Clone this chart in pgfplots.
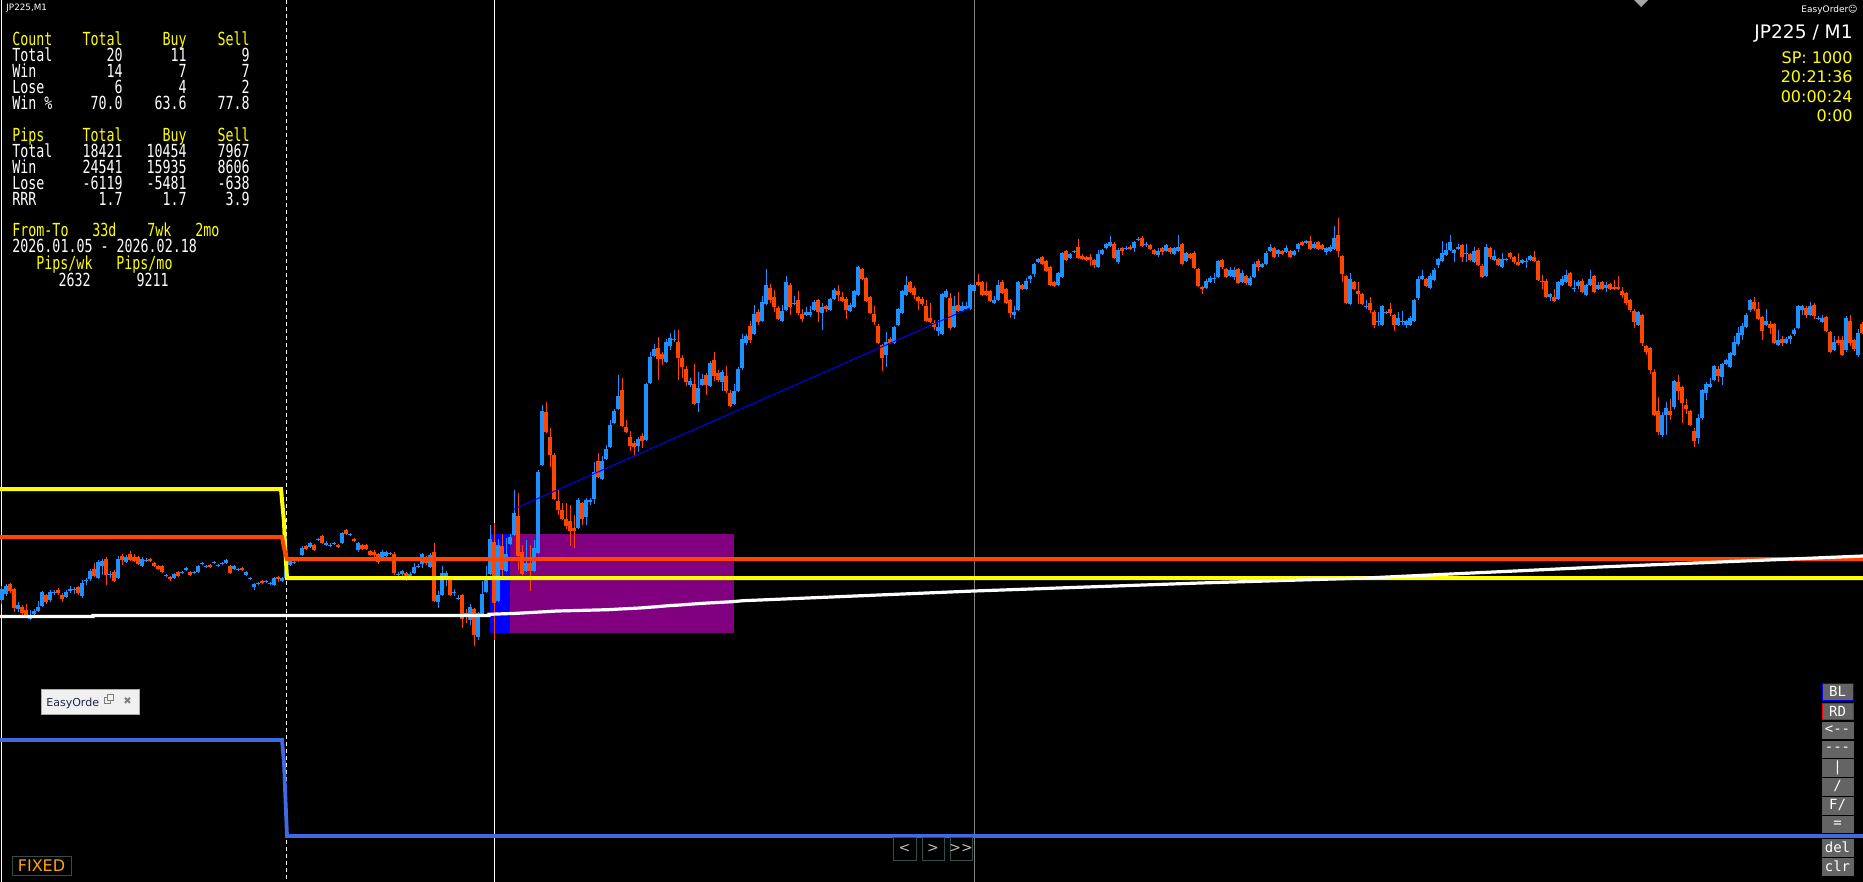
\documentclass[border=0pt]{standalone}
\usepackage{pgfplots}
\usepackage{pgfplotstable}
\usepackage{fontspec}
\pgfplotsset{compat=1.18}
\newfontfamily\mono[FakeStretch=0.74]{DejaVu Sans Mono}
\newfontfamily\bmono{DejaVu Sans Mono}
\newfontfamily\dvs{DejaVu Sans}
\definecolor{upc}{RGB}{30,144,255}
\definecolor{dnc}{RGB}{255,69,0}
\definecolor{yel}{RGB}{255,255,0}
\definecolor{rblue}{RGB}{65,105,225}
\definecolor{purp}{RGB}{128,0,128}
\definecolor{pblue}{RGB}{0,0,255}
\definecolor{btn}{RGB}{100,100,100}
\definecolor{slate}{RGB}{47,79,79}
\definecolor{fixo}{RGB}{255,165,0}
\tikzset{
  pw/.style={anchor=base west, inner sep=0pt, font=\mono\fontsize{9pt}{9pt}\selectfont},
  pe/.style={anchor=base east, inner sep=0pt, font=\mono\fontsize{9pt}{9pt}\selectfont},
  rt/.style={anchor=base east, inner sep=0pt, font=\dvs\fontsize{8pt}{8pt}\selectfont, text=yel},
  bt/.style={inner sep=0pt, font=\bmono\fontsize{7pt}{7pt}\selectfont, text=white},
}
% columns: x, body top, body bottom, wick top, wick bottom (pixel rows, downward)
\pgfplotstableread{
x bt bb wt wb
2 589 600 586 604
6 586 594 584 596
18 605 609 602 612
30 615 619 610 620
34 611 614 609 616
38 607 611 601 612
42 592 606 591 607
50 592 600 590 602
54 592 593 590 595
66 592 597 590 598
70 589 591 586 593
74 589 590 587 594
82 583 596 580 598
86 580 581 578 585
90 571 579 569 581
98 562 578 560 579
102 561 566 559 575
110 574 575 571 578
118 559 578 556 579
126 557 562 555 563
142 559 566 557 567
146 560 561 558 562
166 575 576 574 577
174 574 578 573 579
182 572 573 571 574
186 568 570 567 571
194 572 573 571 574
198 566 572 565 573
202 563 564 562 565
206 566 567 565 568
214 562 563 561 564
218 565 566 564 567
222 563 564 562 565
226 560 563 559 564
234 566 569 565 570
238 569 570 568 571
246 572 575 571 576
250 578 579 577 580
254 584 587 583 590
258 583 584 582 585
266 581 582 580 583
270 583 584 582 585
274 578 585 577 586
282 578 581 577 582
286 570 578 568 579
290 561 565 560 566
294 562 563 561 564
298 560 561 559 562
302 548 555 546 556
310 543 547 542 548
318 539 540 538 541
326 543 545 541 546
330 545 546 543 547
334 543 544 542 545
342 533 543 532 544
350 534 535 533 536
358 543 550 542 552
382 552 558 550 559
386 552 556 551 557
390 553 554 552 555
398 574 575 572 576
402 571 574 570 576
410 574 576 572 577
414 567 573 563 574
418 566 567 564 568
422 554 564 553 568
430 555 567 553 568
438 595 602 591 608
442 573 595 566 596
446 573 577 571 586
454 592 593 589 596
458 598 599 595 600
470 607 620 604 625
478 613 637 612 640
482 594 614 581 615
486 579 592 566 593
490 539 574 525 575
498 545 601 539 602
506 554 571 538 572
510 537 544 534 545
514 513 535 490 536
526 563 571 540 572
534 548 571 540 572
538 472 553 470 554
542 411 465 405 466
578 500 528 498 529
586 500 517 498 525
590 500 502 498 505
594 472 499 462 504
602 461 479 456 480
606 449 459 445 460
610 425 447 420 448
614 411 423 409 424
618 396 409 375 410
638 439 446 437 452
646 384 440 383 441
650 357 383 352 384
654 349 356 344 357
666 342 362 339 363
670 338 346 333 350
674 339 340 330 342
690 381 385 378 387
698 388 403 372 412
702 379 385 374 386
710 363 386 361 387
722 372 382 370 391
734 391 404 384 405
738 369 391 367 392
742 339 368 334 370
746 336 343 334 345
754 314 334 305 335
762 302 321 296 322
766 285 304 269 305
782 311 321 305 322
786 282 310 276 311
794 303 304 296 305
806 312 315 307 316
810 312 315 306 317
814 302 310 300 311
822 307 313 303 330
830 299 310 298 311
834 290 299 288 300
850 305 311 303 312
854 291 307 290 308
858 267 295 266 296
886 342 355 332 367
894 327 343 326 344
898 309 325 308 326
902 291 313 290 314
906 285 295 276 296
938 327 331 320 336
942 294 334 293 335
946 291 297 289 298
954 306 327 296 328
962 306 311 302 312
966 306 309 302 310
970 285 309 284 310
974 285 291 284 292
994 300 303 296 304
998 285 300 280 301
1014 312 315 306 319
1018 282 310 281 311
1026 281 289 278 290
1030 276 279 275 283
1034 264 274 263 277
1038 259 262 258 263
1058 273 285 272 286
1062 253 277 252 278
1070 254 258 253 259
1074 251 252 250 253
1098 254 267 250 268
1102 250 254 249 255
1106 244 248 243 249
1110 242 246 236 247
1118 250 262 248 264
1126 248 249 246 250
1134 242 248 241 252
1138 239 240 237 241
1146 244 245 242 247
1158 251 255 248 257
1166 245 251 244 252
1174 248 254 247 255
1178 247 251 235 252
1186 253 261 252 262
1206 281 288 279 289
1210 278 282 276 283
1214 278 279 273 283
1218 261 277 260 278
1230 270 276 267 277
1234 270 277 267 280
1242 273 282 270 283
1250 278 285 276 286
1254 264 277 262 278
1262 264 267 263 268
1266 253 264 251 265
1270 247 251 244 252
1278 250 254 249 257
1286 248 252 245 253
1294 251 255 250 256
1298 244 249 243 252
1306 241 243 240 244
1314 244 248 242 249
1326 248 252 247 255
1330 247 251 245 252
1334 238 249 226 250
1350 279 304 273 305
1366 306 307 300 309
1378 321 322 312 326
1382 306 325 305 326
1386 312 313 311 314
1398 318 325 312 326
1402 321 322 311 325
1406 321 325 320 328
1410 318 325 316 326
1414 300 321 299 322
1418 279 298 276 300
1422 276 279 270 280
1430 276 288 273 289
1434 270 280 268 281
1438 259 265 258 268
1442 253 261 241 262
1446 250 255 243 256
1450 242 250 235 251
1454 250 253 249 262
1458 247 249 244 250
1466 253 254 244 262
1474 251 262 247 263
1486 247 276 244 277
1494 256 260 250 261
1502 259 267 253 268
1506 259 260 258 261
1522 260 263 259 264
1526 261 262 258 268
1530 256 260 255 261
1550 294 297 293 301
1558 282 299 281 300
1562 279 285 276 286
1566 275 282 270 283
1574 288 289 280 292
1578 282 286 280 289
1586 285 295 284 296
1590 279 285 270 286
1598 285 289 282 290
1606 285 288 282 292
1638 312 325 311 326
1662 415 435 412 437
1666 408 415 402 435
1674 381 407 380 409
1698 418 438 414 444
1702 390 418 389 420
1706 384 393 382 400
1710 384 387 378 388
1714 366 380 365 381
1722 364 377 363 385
1726 360 364 359 365
1730 353 367 352 368
1734 342 355 336 356
1738 333 344 327 346
1742 326 335 323 340
1746 315 327 313 328
1750 300 310 299 312
1766 321 325 309 326
1778 340 345 330 346
1786 339 343 337 344
1790 336 339 335 344
1794 330 334 328 336
1798 306 328 305 329
1802 306 310 305 315
1810 306 315 302 316
1818 318 319 316 320
1822 318 322 315 323
1834 342 350 336 351
1846 318 350 316 352
1858 333 355 329 357
}\upt
\pgfplotstableread{
x bt bb wt wb
10 584 591 583 593
14 589 608 588 612
22 607 613 605 615
26 610 615 604 617
46 595 602 594 604
58 590 593 588 595
62 595 599 593 602
78 587 593 586 595
94 569 576 563 577
106 559 575 557 585
114 572 581 570 582
122 556 560 554 565
130 554 560 551 561
134 557 561 554 562
138 557 564 556 565
150 559 561 558 562
154 563 566 562 567
158 566 569 565 570
162 566 572 565 573
170 577 579 576 581
178 572 576 571 577
190 572 575 571 576
210 565 567 564 568
230 566 573 565 574
242 568 570 567 571
262 581 583 580 584
278 577 579 576 582
306 546 549 545 550
314 545 550 544 551
322 536 543 535 544
338 545 547 544 548
346 530 534 529 535
354 539 541 538 542
362 545 549 544 550
366 545 549 544 550
370 551 555 550 556
374 552 555 550 558
378 554 562 553 564
394 554 573 552 575
406 573 580 572 581
426 557 563 556 565
434 552 601 543 602
450 579 595 578 596
462 595 619 594 628
466 613 614 609 623
474 609 635 608 646
494 542 603 523 640
502 546 570 534 577
518 516 556 493 570
522 552 574 545 575
530 563 571 545 591
546 412 432 402 433
550 437 455 428 467
554 455 499 453 500
558 501 510 490 515
562 510 519 503 520
566 519 526 503 529
570 521 531 505 546
574 528 531 515 548
582 503 519 502 525
598 461 477 453 478
622 390 426 378 427
626 427 432 420 433
630 437 446 431 451
634 443 447 441 456
642 436 441 433 448
658 348 359 337 380
662 354 359 352 365
678 342 358 330 380
682 358 367 355 378
686 369 382 366 386
694 384 404 364 405
706 375 385 373 395
714 360 376 352 381
718 373 380 370 382
726 376 391 366 393
730 393 406 390 407
750 326 340 321 343
758 312 322 309 325
770 288 300 284 303
774 297 307 290 312
778 308 319 306 320
790 285 307 283 315
798 300 313 291 315
802 314 319 309 322
818 300 312 299 322
826 306 309 305 312
838 291 295 285 301
842 297 301 292 302
846 299 310 297 319
862 269 279 268 280
866 278 301 277 302
870 297 313 296 314
874 314 322 306 325
878 326 343 324 344
882 345 358 344 371
890 339 343 337 344
910 282 292 281 293
914 288 295 286 299
918 297 301 296 310
922 299 304 297 306
926 306 321 300 322
930 318 322 303 323
934 323 327 320 330
950 298 328 293 330
958 305 311 292 312
978 282 285 274 286
982 282 295 281 296
986 291 295 282 296
990 291 301 290 302
1002 282 293 280 294
1006 289 303 288 304
1010 300 313 299 318
1022 285 289 284 290
1042 257 264 256 265
1046 261 271 260 272
1050 267 285 266 286
1054 282 286 281 287
1066 251 260 250 261
1078 247 258 239 259
1082 256 259 254 260
1086 257 260 256 261
1090 257 260 254 266
1094 260 265 259 268
1114 244 258 242 259
1122 248 251 247 255
1130 247 249 245 250
1142 238 246 236 247
1150 245 249 244 250
1154 250 254 249 255
1162 248 252 247 255
1170 248 252 247 254
1182 244 264 243 265
1190 254 258 253 259
1194 253 268 251 269
1198 269 286 268 287
1202 287 289 286 294
1222 260 267 259 269
1226 269 277 268 278
1238 269 283 268 284
1246 276 283 275 285
1258 261 267 259 271
1274 248 257 247 258
1282 251 254 250 255
1290 251 257 250 258
1302 242 245 241 246
1310 241 249 236 250
1318 242 249 241 250
1322 245 249 244 250
1338 235 251 218 257
1342 256 274 255 282
1346 276 303 275 304
1354 282 289 281 290
1358 291 294 282 304
1362 294 304 293 305
1370 303 310 297 313
1374 312 325 310 328
1390 309 313 303 316
1394 315 325 314 331
1426 279 286 278 287
1462 245 257 244 262
1470 254 260 253 261
1478 250 265 248 266
1482 266 277 264 278
1490 248 257 247 259
1498 259 265 258 266
1510 253 257 252 259
1514 257 262 256 264
1518 262 265 253 266
1534 257 261 251 262
1538 261 280 260 281
1542 281 282 275 289
1546 281 297 279 298
1554 297 301 289 302
1570 273 286 272 287
1582 281 292 279 293
1594 276 292 275 293
1602 282 289 281 290
1610 284 289 283 290
1614 287 289 280 290
1618 287 289 276 290
1622 291 295 287 298
1626 293 303 292 305
1630 300 310 299 312
1634 311 322 309 328
1642 315 343 314 346
1646 346 352 345 355
1650 348 370 347 374
1654 372 415 369 416
1658 411 432 397 435
1670 411 415 399 420
1678 382 391 375 400
1682 387 403 386 423
1686 405 409 399 414
1690 411 425 410 426
1694 431 441 428 447
1718 369 376 366 382
1754 302 309 297 311
1758 309 319 302 320
1762 317 331 316 340
1770 324 328 321 334
1774 324 343 323 344
1782 339 343 336 346
1806 308 315 306 318
1814 305 316 303 319
1826 317 331 316 332
1830 332 352 331 353
1838 340 343 336 345
1842 340 355 336 356
1850 321 343 315 346
1854 340 349 339 351
1862 324 333 322 334
}\dnt
\begin{document}
\begin{tikzpicture}
\useasboundingbox (0,0) rectangle (931.5pt,441pt);
\fill[black] (0,0) rectangle (931.5pt,441pt);
\begin{axis}[
  at={(0,0)}, anchor=south west,
  scale only axis, width=931.5pt, height=441pt,
  xmin=0, xmax=1863, ymin=0, ymax=882, y dir=reverse,
  hide axis, clip=false,
]
% zones
\addplot[draw=none, fill=pblue] coordinates {(490,534) (510,534) (510,633) (490,633)} -- cycle;
\addplot[draw=none, fill=purp] coordinates {(510,534) (734,534) (734,633) (510,633)} -- cycle;
% vertical lines
\addplot[white, line width=0.5pt] coordinates {(2,0) (2,882)};
\addplot[white, line width=0.5pt, dash pattern=on 2pt off 1.5pt] coordinates {(286.5,0) (286.5,882)};
\addplot[white, line width=0.5pt] coordinates {(494,0) (494,882)};
\addplot[gray, line width=0.5pt] coordinates {(974,0) (974,882)};
% candles: wicks
\addplot[draw=none, no markers, error bars/.cd, y dir=plus, y explicit, error mark=none,
  error bar style={draw=upc, line width=0.5pt}] table[x=x, y=wt, y error expr=\thisrow{wb}-\thisrow{wt}] {\upt};
\addplot[draw=none, no markers, error bars/.cd, y dir=plus, y explicit, error mark=none,
  error bar style={draw=dnc, line width=0.5pt}] table[x=x, y=wt, y error expr=\thisrow{wb}-\thisrow{wt}] {\dnt};
% candles: bodies
\addplot[draw=none, no markers, error bars/.cd, y dir=plus, y explicit, error mark=none,
  error bar style={draw=upc, line width=1.7pt}] table[x=x, y=bt, y error expr=\thisrow{bb}-\thisrow{bt}] {\upt};
\addplot[draw=none, no markers, error bars/.cd, y dir=plus, y explicit, error mark=none,
  error bar style={draw=dnc, line width=1.7pt}] table[x=x, y=bt, y error expr=\thisrow{bb}-\thisrow{bt}] {\dnt};
% indicator lines
\addplot[yel, line width=2pt] coordinates {(0,489) (281,489) (282,500) (284,522) (285,545) (287,578) (1863,578)};
\addplot[dnc, line width=2pt] coordinates {(0,537) (282,537) (284,548) (287,559) (1863,559)};
\addplot[white, line width=1.6pt] coordinates {(0,616.5) (93,616.5) (93,615.5) (489,615.5) (489,614.3) (517,613.3) (540,612) (557,611) (608,609.7) (620,609) (640,608) (657,606.7) (668,605.7) (680,605) (697,603.7) (708,603) (732,601.7) (743,600.7) (760,600) (974,591) (1200,583) (1366,578) (1600,567) (1863,556)};
\addplot[rblue, line width=1.9pt] coordinates {(0,740) (282,740) (284,763) (285,788) (286,812) (287,836) (1863,836)};
\addplot[pblue, line width=0.5pt] coordinates {(514,509) (970,308)};
% top-left title
\node[anchor=base west, inner sep=0pt, font=\dvs\fontsize{4.4pt}{4.4pt}\selectfont, text=white] at (axis cs:6,11) {JP225,M1};
% stats panel
\node[pw, text=yel] at (axis cs:12,46) {Count};
\node[pe, text=yel] at (axis cs:123,46) {Total};
\node[pe, text=yel] at (axis cs:187,46) {Buy};
\node[pe, text=yel] at (axis cs:250,46) {Sell};
\node[pw, text=white] at (axis cs:12,62) {Total};
\node[pe, text=white] at (axis cs:123,62) {20};
\node[pe, text=white] at (axis cs:187,62) {11};
\node[pe, text=white] at (axis cs:250,62) {9};
\node[pw, text=white] at (axis cs:12,78) {Win};
\node[pe, text=white] at (axis cs:123,78) {14};
\node[pe, text=white] at (axis cs:187,78) {7};
\node[pe, text=white] at (axis cs:250,78) {7};
\node[pw, text=white] at (axis cs:12,94) {Lose};
\node[pe, text=white] at (axis cs:123,94) {6};
\node[pe, text=white] at (axis cs:187,94) {4};
\node[pe, text=white] at (axis cs:250,94) {2};
\node[pw, text=white] at (axis cs:12,110) {Win \%};
\node[pe, text=white] at (axis cs:123,110) {70.0};
\node[pe, text=white] at (axis cs:187,110) {63.6};
\node[pe, text=white] at (axis cs:250,110) {77.8};
\node[pw, text=yel] at (axis cs:12,142) {Pips};
\node[pe, text=yel] at (axis cs:123,142) {Total};
\node[pe, text=yel] at (axis cs:187,142) {Buy};
\node[pe, text=yel] at (axis cs:250,142) {Sell};
\node[pw, text=white] at (axis cs:12,158) {Total};
\node[pe, text=white] at (axis cs:123,158) {18421};
\node[pe, text=white] at (axis cs:187,158) {10454};
\node[pe, text=white] at (axis cs:250,158) {7967};
\node[pw, text=white] at (axis cs:12,174) {Win};
\node[pe, text=white] at (axis cs:123,174) {24541};
\node[pe, text=white] at (axis cs:187,174) {15935};
\node[pe, text=white] at (axis cs:250,174) {8606};
\node[pw, text=white] at (axis cs:12,190) {Lose};
\node[pe, text=white] at (axis cs:123,190) {-6119};
\node[pe, text=white] at (axis cs:187,190) {-5481};
\node[pe, text=white] at (axis cs:250,190) {-638};
\node[pw, text=white] at (axis cs:12,206) {RRR};
\node[pe, text=white] at (axis cs:123,206) {1.7};
\node[pe, text=white] at (axis cs:187,206) {1.7};
\node[pe, text=white] at (axis cs:250,206) {3.9};
\node[pw, text=yel] at (axis cs:12,237) {From-To};
\node[pw, text=yel] at (axis cs:92,237) {33d};
\node[pw, text=yel] at (axis cs:147,237) {7wk};
\node[pw, text=yel] at (axis cs:195,237) {2mo};
\node[pw, text=white] at (axis cs:12,253) {2026.01.05 - 2026.02.18};
\node[pw, text=yel] at (axis cs:36,270) {Pips/wk};
\node[pw, text=yel] at (axis cs:116,270) {Pips/mo};
\node[pe, text=white] at (axis cs:91,286) {2632};
\node[pe, text=white] at (axis cs:169,286) {9211};
% top-right
\node[anchor=base east, inner sep=0pt, font=\dvs\fontsize{4.5pt}{4.5pt}\selectfont, text=white] at (axis cs:1858,13) {EasyOrder☺};
\node[anchor=base east, inner sep=0pt, font=\dvs\fontsize{9.3pt}{9.3pt}\selectfont, text=white] at (axis cs:1853,39) {JP225 / M1};
\node[rt] at (axis cs:1853,64) {SP: 1000};
\node[rt] at (axis cs:1853,83) {20:21:36};
\node[rt] at (axis cs:1853,103) {00:00:24};
\node[rt] at (axis cs:1853,122) {0:00};
% top marker
\fill[gray!70] (axis cs:1634,0) -- (axis cs:1648,0) -- (axis cs:1641,7) -- cycle;
% right buttons
\draw[fill=btn, draw=pblue, line width=0.5pt] (axis cs:1822,683) rectangle (axis cs:1853,700);
\node[bt] at (axis cs:1837.5,691.5) {BL};
\draw[fill=btn, draw=red, line width=0.5pt] (axis cs:1822,703) rectangle (axis cs:1853,719);
\node[bt] at (axis cs:1837.5,711) {RD};
\draw[fill=btn, draw=btn] (axis cs:1822,722) rectangle (axis cs:1853,738);
\node[bt] at (axis cs:1837.5,730) {<--};
\draw[fill=btn, draw=btn] (axis cs:1822,741) rectangle (axis cs:1853,757);
\node[bt] at (axis cs:1837.5,749) {---};
\draw[fill=btn, draw=btn] (axis cs:1822,759) rectangle (axis cs:1853,776);
\node[bt] at (axis cs:1837.5,767.5) {|};
\draw[fill=btn, draw=btn] (axis cs:1822,778) rectangle (axis cs:1853,795);
\node[bt] at (axis cs:1837.5,786.5) {/};
\draw[fill=btn, draw=btn] (axis cs:1822,797) rectangle (axis cs:1853,814);
\node[bt] at (axis cs:1837.5,805.5) {F/};
\draw[fill=btn, draw=btn] (axis cs:1822,816) rectangle (axis cs:1853,832);
\node[bt] at (axis cs:1837.5,824) {=};
\draw[fill=btn, draw=btn] (axis cs:1822,839) rectangle (axis cs:1853,856);
\node[bt] at (axis cs:1837.5,847.5) {del};
\draw[fill=btn, draw=btn] (axis cs:1822,858) rectangle (axis cs:1853,875);
\node[bt] at (axis cs:1837.5,866.5) {clr};
% nav buttons
\draw[slate, line width=0.5pt] (axis cs:893,837) rectangle (axis cs:916,860);
\node[inner sep=0pt, font=\dvs\fontsize{7pt}{7pt}\selectfont, text=lightgray] at (axis cs:904.5,848.5) {<};
\draw[slate, line width=0.5pt] (axis cs:922,837) rectangle (axis cs:944,860);
\node[inner sep=0pt, font=\dvs\fontsize{7pt}{7pt}\selectfont, text=lightgray] at (axis cs:933,848.5) {>};
\draw[slate, line width=0.5pt] (axis cs:950,837) rectangle (axis cs:972,860);
\node[inner sep=0pt, font=\dvs\fontsize{7pt}{7pt}\selectfont, text=lightgray] at (axis cs:961,848.5) {>>};
% FIXED
\draw[slate, line width=0.5pt] (axis cs:12,856) rectangle (axis cs:71,875);
\node[inner sep=0pt, font=\dvs\fontsize{8pt}{8pt}\selectfont, text=fixo] at (axis cs:41.5,866) {FIXED};
% EasyOrde window
\draw[fill={rgb,255:red,240;green,240;blue,240}, draw={rgb,255:red,170;green,170;blue,170}, line width=0.5pt] (axis cs:41,689) rectangle (axis cs:139,714);
\node[anchor=base west, inner sep=0pt, font=\dvs\fontsize{5.5pt}{5.5pt}\selectfont, text={rgb,255:red,30;green,40;blue,70}] at (axis cs:46,706) {EasyOrde};
\draw[gray, line width=0.4pt] (axis cs:104,697) rectangle (axis cs:110,703);
\draw[gray, line width=0.4pt, fill={rgb,255:red,240;green,240;blue,240}] (axis cs:107,694) rectangle (axis cs:113,700);
\node[inner sep=0pt, font=\dvs\fontsize{5pt}{5pt}\selectfont, text=gray] at (axis cs:127.5,701) {✖};
\end{axis}
\end{tikzpicture}
\end{document}
